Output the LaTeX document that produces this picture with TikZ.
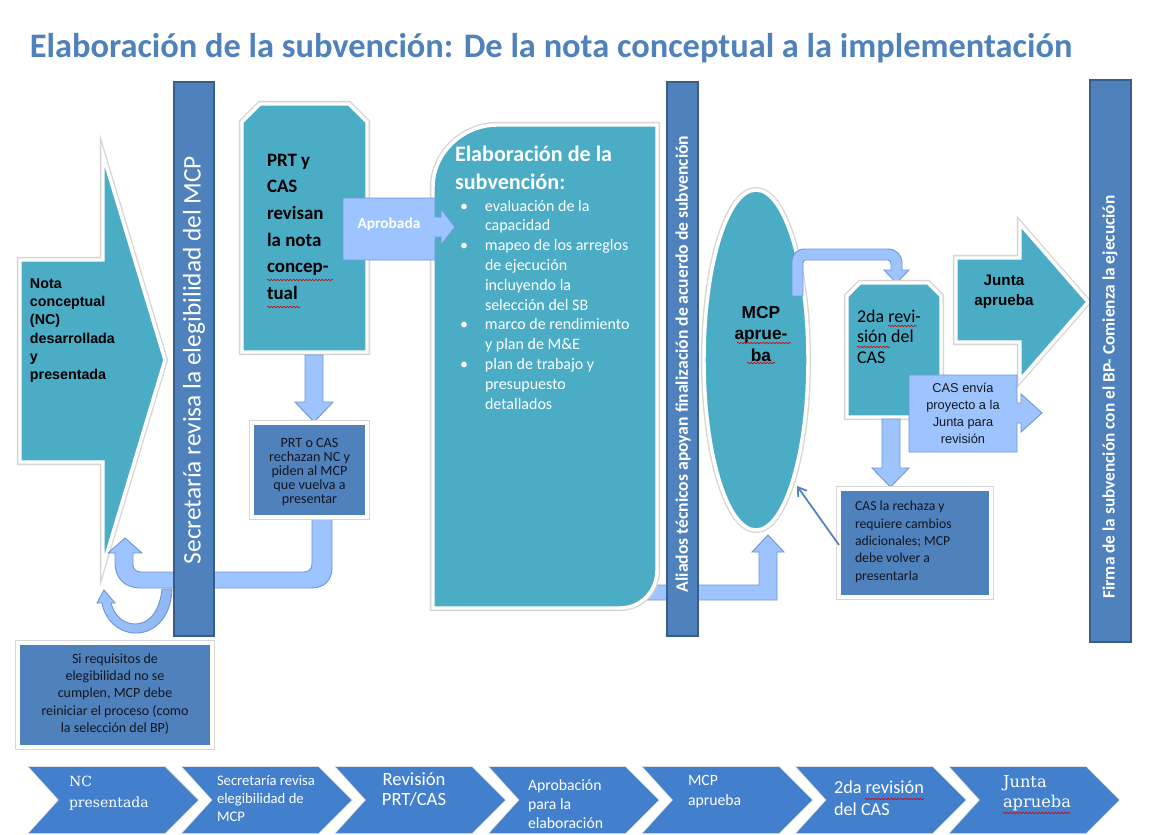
\documentclass[tikz,border=0pt]{standalone}
\usepackage{fontspec}
\setmainfont{Carlito}
\newfontfamily\arialf{Liberation Sans}
\newfontfamily\serf{DejaVu Serif}
\usetikzlibrary{arrows.meta,decorations.pathmorphing}
\definecolor{cteal}{RGB}{75,172,198}
\definecolor{cbar}{RGB}{79,129,189}
\definecolor{cbarb}{RGB}{56,93,138}
\definecolor{clight}{RGB}{158,196,255}
\definecolor{clightb}{RGB}{112,150,215}
\definecolor{cchev}{RGB}{66,128,205}
\definecolor{ctitle}{RGB}{79,129,189}
\definecolor{ctxt}{RGB}{20,22,30}
\newcommand\myfs[2]{\fontsize{#1}{#2}\selectfont\lineskiplimit=-30pt\lineskip=0pt}
\begin{document}
\begin{tikzpicture}[x=0.75pt,y=-0.75pt,
  tealshape/.style={fill=cteal,draw=white,line width=2.6pt,line join=miter,
     preaction={draw=black!16,line width=4.6pt}},
  darkbox/.style={fill=cbar,draw=white,line width=2.6pt,
     preaction={draw=black!16,line width=4.6pt}},
  barshape/.style={fill=cbar,draw=cbarb,line width=1.1pt},
  larrow/.style={fill=clight,draw=clightb,line width=0.7pt,line join=miter},
  thinarrow/.style={draw=cbar,line width=1.3pt,-{Straight Barb[length=6pt,width=8pt]}},
  txt/.style={inner sep=0pt,outer sep=0pt},
  squig/.style={draw=red!85!black,line width=0.45pt,decorate,
     decoration={snake,amplitude=0.55pt,segment length=2.4pt}},
  chev/.style={fill=cchev,draw=none,preaction={draw=black!12,line width=1.2pt}},
  chtxt/.style={txt,text=white,anchor=west,align=left}]
\useasboundingbox (0,0) rectangle (1154,835);
\fill[white] (0,0) rectangle (1154,835);

% title
\node[txt,font=\myfs{25.8}{30}\bfseries,text=ctitle] (title) at (551,48)
  {Elaboración de la subvención: De la nota conceptual a la implementación};

% left big arrow
\draw[tealshape] (20,260) -- (103,260) -- (103,155) -- (165,360) -- (103,566) -- (103,462) -- (20,462) -- cycle;
\node[txt,anchor=north west,align=left,font=\arialf\bfseries\myfs{10.7}{13.7},text=black] (nc) at (30,278.5)
  {Nota\\conceptual\\(NC)\\desarrollada\\y\\presentada};

% return U arrow
\draw[larrow] (125,538) -- (142,553) -- (133,553) -- (133,565) .. controls (133,569) and (136,572) .. (141,572)
  -- (304,572) .. controls (309,572) and (312,569) .. (312,564) -- (312,515) -- (332,515) -- (332,568)
  .. controls (332,580) and (324,588) .. (312,588) -- (140,588) .. controls (125,588) and (115,578) .. (115,563)
  -- (115,553) -- (108,553) -- cycle;
% small curved arrow
\draw[larrow,left color=clight,right color=clight!80!cbar] (172,589) .. controls (171,620) and (152,634) .. (134,633)
  .. controls (118,632) and (105,620) .. (102,603) -- (97,603) -- (104,590) -- (115,603) -- (111,603)
  .. controls (114,615) and (123,624) .. (135,624) .. controls (150,624) and (160,610) .. (162,589) -- cycle;

% bar 1
\draw[barshape] (174,82) rectangle (214,636);
\node[txt,rotate=90,font=\myfs{19}{23},text=white] (bar1) at (194,360) {Secretaría revisa la elegibilidad del MCP};

% PRT box
\draw[tealshape] (242,122) -- (260,104) -- (349,104) -- (367,122) -- (367,352) -- (242,352) -- cycle;
\node[txt,anchor=north west,align=left,font=\myfs{14.2}{20}\bfseries,text=black] (prt) at (267,154)
  {PRT y\\CAS\\revisan\\la nota\\concep-\\tual};
\draw[squig] (267,280) -- (333,280);
\draw[squig] (267,307) -- (300,307);

% down arrow under PRT
\draw[larrow] (305,355) -- (323,355) -- (323,402) -- (333,402) -- (314,422) -- (295,402) -- (305,402) -- cycle;
% PRT o CAS box
\draw[darkbox] (252,423) rectangle (367,517);
\node[txt,align=center,font=\myfs{10.6}{10.6},text=ctxt] (rech1) at (309.5,472)
  {PRT o CAS\\rechazan NC y\\piden al MCP\\que vuelva a\\presentar};

% MCP ellipse
\draw[tealshape] (756,360) ellipse [x radius=52, y radius=170];
\node[txt,align=center,font=\arialf\bfseries\myfs{13}{16},text=black] (mcp) at (761,334) {MCP\\aprue-\\ba};
\draw[squig] (737,343) -- (791,343);
\draw[squig] (747,363) -- (775,363);

% bottom connector to ellipse
\draw[larrow] (620,585) -- (759,585) -- (759,552) -- (752,552) -- (768,535) -- (784,552) -- (777,552) -- (777,600) -- (620,600) -- cycle;

% Elaboracion box
\draw[tealshape] (433,608) -- (433,187) .. controls (433,153) and (463,125) .. (497,125) -- (657,125) -- (657,570)
  .. controls (657,591) and (641,608) .. (620,608) -- cycle;
\node[txt,anchor=north west,align=left,font=\myfs{16.6}{21}\bfseries,text=white] (elab) at (455,146)
  {Elaboración de la\\subvención:};
\node[txt,anchor=north west,align=left,font=\myfs{12}{14.85},text=white] (bul) at (460,200)
  {\makebox[18.75pt][l]{•}evaluación de la\\\hspace*{18.75pt}capacidad\\
   \makebox[18.75pt][l]{•}mapeo de los arreglos\\\hspace*{18.75pt}de ejecución\\
   \hspace*{18.75pt}incluyendo la\\\hspace*{18.75pt}selección del SB\\
   \makebox[18.75pt][l]{•}marco de rendimiento\\\hspace*{18.75pt}y plan de M\&E\\
   \makebox[18.75pt][l]{•}plan de trabajo y\\\hspace*{18.75pt}presupuesto\\\hspace*{18.75pt}detallados};

% Aprobada callout
\draw[larrow] (343,198) -- (435,198) -- (435,217) -- (441,217) -- (441,209) -- (455,227) -- (441,245) -- (441,237)
  -- (435,237) -- (435,260) -- (343,260) -- cycle;
\node[txt,font=\myfs{11.5}{14}\bfseries,text=white] (apro) at (389,224) {Aprobada};

% bar 2
\draw[barshape] (667,82) rectangle (698,636);
\node[txt,rotate=90,font=\myfs{13.2}{16}\bfseries,text=white] (bar2) at (683,364)
  {Aliados técnicos apoyan finalización de acuerdo de subvención};

% MCP -> 2da arrow
\draw[larrow] (792,296) -- (792,262) .. controls (792,254) and (797,249) .. (805,249) -- (888,249)
  .. controls (896,249) and (902,255) .. (902,263) -- (902,270) -- (909,270) -- (896.5,283) -- (884,270) -- (891,270)
  -- (891,264) .. controls (891,262) and (890,260) .. (888,260) -- (806,260) .. controls (804,260) and (803,261) .. (803,263)
  -- (803,296) -- cycle;

% 2da box
\draw[tealshape] (847,296) -- (860,283) -- (928,283) -- (941,296) -- (941,417) -- (847,417) -- cycle;
\node[txt,anchor=north west,align=left,font=\myfs{13.5}{15.4},text=black] (cas2) at (857,309.5)
  {2da revi-\\sión del\\CAS};
\draw[squig] (888,326) -- (917,326);
\draw[squig] (857,347) -- (890,347);

% down arrow from 2da
\draw[larrow] (882,419) -- (900,419) -- (900,468) -- (909,468) -- (890.5,487) -- (872,468) -- (882,468) -- cycle;

% CAS la rechaza box
\draw[darkbox] (839,489) rectangle (991,597);
\node[txt,anchor=north west,align=left,font=\myfs{10.3}{13.1},text=ctxt] (rech2) at (855,501)
  {CAS la rechaza y\\requiere cambios\\adicionales; MCP\\debe volver a\\presentarla};
\coordinate (r2out) at (839,545);
\coordinate (ellin) at (797,486);
\draw[thinarrow] (r2out) -- (ellin);

% Junta arrow
\draw[tealshape] (956,258) -- (1020,258) -- (1020,224) -- (1088,302) -- (1020,380) -- (1020,342) -- (956,342) -- cycle;
\node[txt,align=center,font=\arialf\bfseries\myfs{11.4}{15},text=black] (junta) at (1004,292) {Junta\\aprueba};

% CAS envia callout
\draw[larrow] (909,375) -- (1017,375) -- (1017,403) -- (1021,403) -- (1021,394) -- (1042,413) -- (1021,432) -- (1021,423)
  -- (1017,423) -- (1017,452) -- (909,452) -- cycle;
\node[txt,align=center,font=\arialf\myfs{9.6}{12.75},text=ctxt] (envia) at (963,413)
  {CAS envía\\proyecto a la\\Junta para\\revisión};

% bar 3
\draw[barshape] (1090,80) rectangle (1131,642);
\node[txt,rotate=90,font=\myfs{13}{16}\bfseries,text=white] (bar3) at (1110,397)
  {Firma de la subvención con el BP- Comienza la ejecución};

% Si requisitos box
\draw[darkbox] (18,643) rectangle (212,747);
\node[txt,align=center,font=\myfs{10.5}{13},text=ctxt] (sireq) at (115,694)
  {Si requisitos de\\elegibilidad no se\\cumplen, MCP debe\\reiniciar el proceso (como\\la selección del BP)};

% chevrons
\foreach \i in {0,...,6}{
  \pgfmathsetmacro{\xo}{29+153.5*\i}
  \draw[chev] (\xo,767) -- (\xo+136,767) -- (\xo+169,800) -- (\xo+136,833) -- (\xo,833) -- (\xo+30,800) -- cycle;
}
\node[chtxt,anchor=north west,font=\serf\myfs{10.5}{15.5}] (c1) at (69,776) {NC\\presentada};
\node[chtxt,anchor=north west,font=\myfs{11}{13.5}] (c2) at (217,775) {Secretaría revisa\\elegibilidad de\\MCP};
\node[txt,text=white,align=center,anchor=north,font=\myfs{14}{15}] (c3) at (414,773) {Revisión\\PRT/CAS};
\node[chtxt,anchor=north west,font=\myfs{11.8}{14.2}] (c4) at (528,780) {Aprobación\\para la\\elaboración};
\node[chtxt,anchor=north west,font=\myfs{11.8}{15}] (c5) at (688,775) {MCP\\aprueba};
\node[chtxt,anchor=north west,font=\myfs{13.7}{16.5}] (c6) at (834,781) {2da revisión\\del CAS};
\node[chtxt,anchor=north west,font=\serf\myfs{12.2}{15}] (c7) at (1003,776) {Junta\\aprueba};
\draw[squig] (865,799) -- (924,799);
\draw[squig] (1003,813) -- (1070,813);
\end{tikzpicture}
\end{document}
